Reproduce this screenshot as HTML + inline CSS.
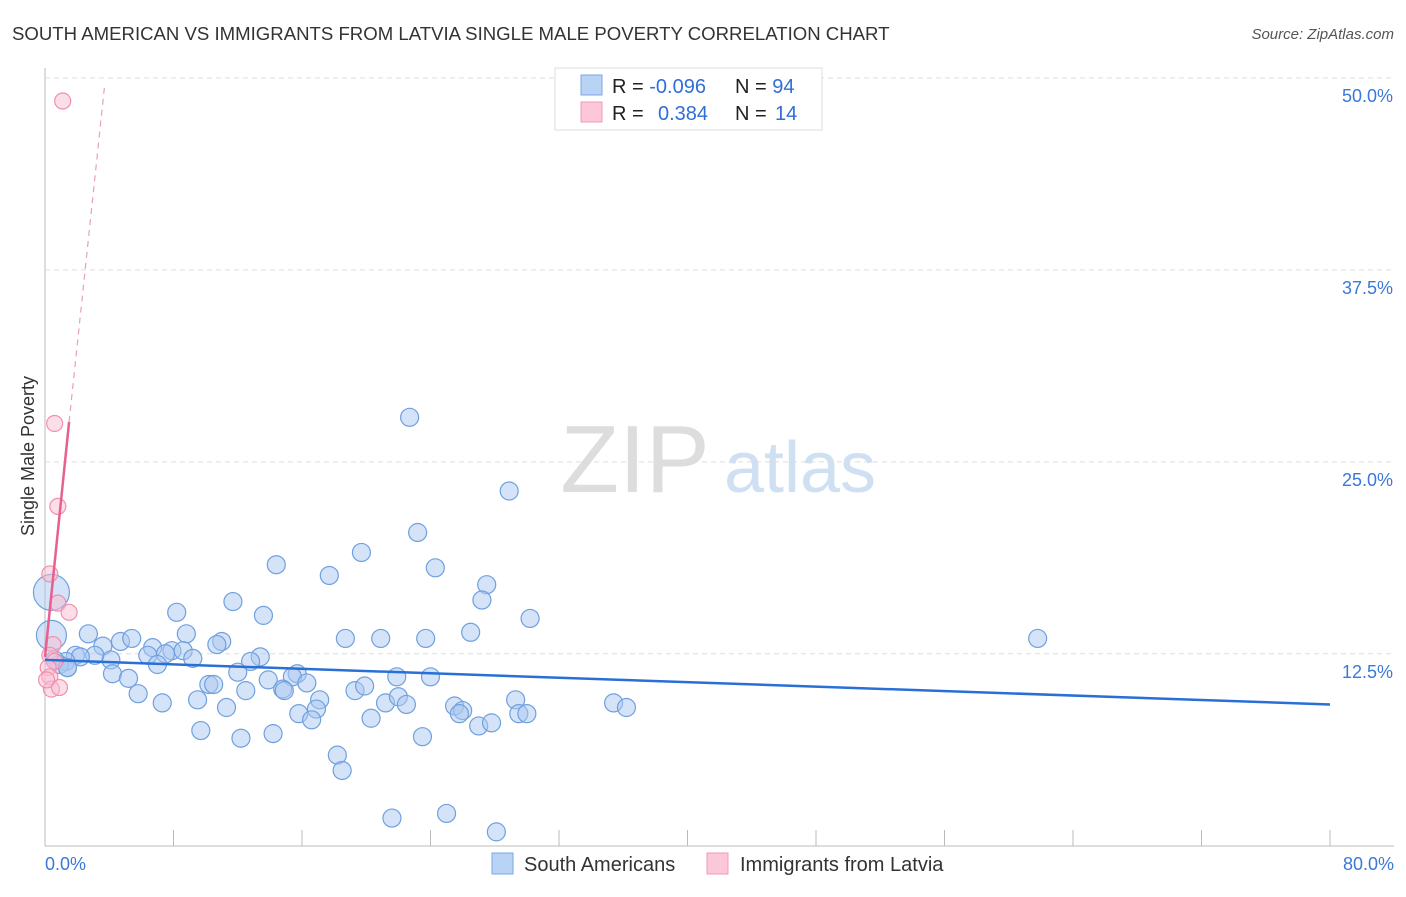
<!DOCTYPE html>
<html><head><meta charset="utf-8"><style>
body{margin:0;background:#fff;font-family:"Liberation Sans",sans-serif}
svg text{font-family:"Liberation Sans",sans-serif}
</style></head><body>
<svg id="c" width="1406" height="892">
<text x="12" y="40" font-size="18.6" fill="#333">SOUTH AMERICAN VS IMMIGRANTS FROM LATVIA SINGLE MALE POVERTY CORRELATION CHART</text>
<text x="1394" y="39" font-size="15" fill="#555" font-style="italic" text-anchor="end">Source: ZipAtlas.com</text>
<text x="34" y="456" font-size="18" fill="#333" transform="rotate(-90 34 456)" text-anchor="middle">Single Male Poverty</text>
<text x="635" y="492" font-size="96" fill="#ddd" font-family="Liberation Serif" text-anchor="middle">ZIP</text>
<text x="800" y="492" font-size="72" fill="#cfe0f3" text-anchor="middle">atlas</text>
<g id="grid"></g><g id="pts"></g><g id="lines"></g>
<g>
<rect x="555" y="68" width="267" height="62" fill="#fff" stroke="#ddd"/>
<rect x="581" y="75" width="21" height="20" fill="#b9d3f5" stroke="#7aa7e6"/>
<rect x="581" y="102" width="21" height="20" fill="#fcc8d8" stroke="#f09ab5"/>
<text x="612" y="93" font-size="20" fill="#222">R = <tspan fill="#2f6fd6">-0.096</tspan></text>
<text x="735" y="93" font-size="20" fill="#222">N = <tspan fill="#2f6fd6">94</tspan></text>
<text x="612" y="120" font-size="20" fill="#222">R = <tspan fill="#2f6fd6" x="658">0.384</tspan></text>
<text x="735" y="120" font-size="20" fill="#222">N = <tspan fill="#2f6fd6" x="775">14</tspan></text>
</g>
<g>
<rect x="492" y="853" width="21" height="21" fill="#b9d3f5" stroke="#7aa7e6"/>
<text x="524" y="871" font-size="20" fill="#333">South Americans</text>
<rect x="707" y="853" width="21" height="21" fill="#fcc8d8" stroke="#f09ab5"/>
<text x="740" y="871" font-size="20" fill="#333">Immigrants from Latvia</text>
</g>
</svg>
<script>
const blueX=[22.7,28.9,23.2,19.7,24.3,14.4,17.7,27.5,27.2,11.7,8.2,13.6,30.2,26.5,18.7,20.9,23.7,61.8,2.7,4.7,5.4,8.8,11.0,10.7,6.7,3.6,7.9,8.6,6.4,7.5,9.2,13.4,12.8,4.1,3.1,1.9,2.2,1.3,0.9,1.4,7.0,4.2,5.2,12.0,15.7,15.4,21.9,24.0,13.9,16.3,14.8,10.2,10.5,5.8,12.5,14.9,19.3,19.9,7.3,9.5,11.3,17.1,21.2,22.0,22.5,25.5,26.0,29.3,35.4,36.2,15.8,16.9,16.6,20.3,25.8,29.5,30.0,27.0,27.8,9.7,12.2,14.2,23.5,18.2,18.5,21.6,25.0,28.1,0.4,0.4,0.6,1.4];
const blueY=[27.9,23.1,20.4,19.1,18.1,18.3,17.6,17.0,16.0,15.9,15.2,15.0,14.8,13.9,13.5,13.5,13.5,13.5,13.8,13.3,13.5,13.8,13.3,13.1,12.9,13.0,12.7,12.7,12.4,12.5,12.2,12.3,12.0,12.1,12.4,12.4,12.3,12.0,11.8,11.6,11.8,11.2,10.9,11.3,11.2,11.0,11.0,11.0,10.8,10.6,10.2,10.5,10.5,9.9,10.1,10.1,10.1,10.4,9.3,9.5,9.0,9.5,9.3,9.7,9.2,9.1,8.8,9.5,9.3,9.0,8.6,8.9,8.2,8.3,8.6,8.6,8.6,7.8,8.0,7.5,7.0,7.3,7.1,5.9,4.9,1.8,2.1,0.9,16.5,13.7,12.1,11.6];
const pinkX=[1.1,0.6,0.8,0.3,0.8,1.5,0.5,0.3,0.6,0.2,0.3,0.4,0.9,0.1];
const pinkY=[48.5,27.5,22.1,17.7,15.8,15.2,13.1,12.4,12.0,11.6,11.0,10.2,10.3,10.8];
const bigIdx=[88,89];
const blueTrend=[0,12.1,80,9.2];
const pinkTrend=[0,12.3,1.5,27.6,3.7,49.4];
const yTicks=[12.5,25.0,37.5,50.0];
const xTickVals=[0,8,16,24,32,40,48,56,64,72,80];
const X=v=>45+v/80*1285, Y=v=>845.7-v/50*767.7;
const NS="http://www.w3.org/2000/svg";
function mk(p,t,a){const e=document.createElementNS(NS,t);for(const k in a)e.setAttribute(k,a[k]);p.appendChild(e);return e;}
const g=document.getElementById('grid'),pts=document.getElementById('pts'),ln=document.getElementById('lines');
let ax=mk(g,'line',{x1:45,y1:68,x2:45,y2:846,stroke:'#bbb'});


let bx=mk(g,'line',{x1:45,y1:846,x2:1394,y2:846,stroke:'#bbb'});


yTicks.forEach(v=>{
 const l=mk(g,'line',{x1:45,y1:Y(v),x2:1394,y2:Y(v),stroke:'#ddd','stroke-dasharray':'5,4'});
 
 
 const t=mk(g,'text',{x:1393,y:Y(v)+24,'font-size':18,fill:'#3b78d8','text-anchor':'end'});t.textContent=v.toFixed(1)+'%';
 
 
});
xTickVals.forEach(v=>{
 const l=mk(g,'line',{x1:X(v),y1:830,x2:X(v),y2:846,stroke:'#bbb'});
 
 
});
[[0,'0.0%',45,'start'],[80,'80.0%',1394,'end']].forEach(a=>{
 const t=mk(g,'text',{x:a[2],y:870,'font-size':18,fill:'#3b78d8','text-anchor':a[3]});t.textContent=a[1];
 
 
});
blueX.forEach((x,i)=>{
 const r=bigIdx.includes(i)?(i==88?18:15):9;
 const c=mk(pts,'circle',{cx:X(x),cy:Y(blueY[i]),r:r,fill:'rgba(170,200,240,0.5)',stroke:'#6fa0e0','stroke-width':1.2});
 
 
});
pinkX.forEach((x,i)=>{
 const c=mk(pts,'circle',{cx:X(x),cy:Y(pinkY[i]),r:8,fill:'rgba(250,190,210,0.5)',stroke:'#f08fb0','stroke-width':1.2});
 
 
});
let bl=mk(ln,'line',{x1:X(blueTrend[0]),y1:Y(blueTrend[1]),x2:X(blueTrend[2]),y2:Y(blueTrend[3]),stroke:'#2a6fd6','stroke-width':2.5});


let pl=mk(ln,'line',{x1:X(pinkTrend[0]),y1:Y(pinkTrend[1]),x2:X(pinkTrend[2]),y2:Y(pinkTrend[3]),stroke:'#e8608e','stroke-width':2.5});


let pd=mk(ln,'line',{x1:X(pinkTrend[2]),y1:Y(pinkTrend[3]),x2:X(pinkTrend[4]),y2:Y(pinkTrend[5]),stroke:'#e8a0b8','stroke-width':1.2,'stroke-dasharray':'6,5'});


</script>
</body></html>
